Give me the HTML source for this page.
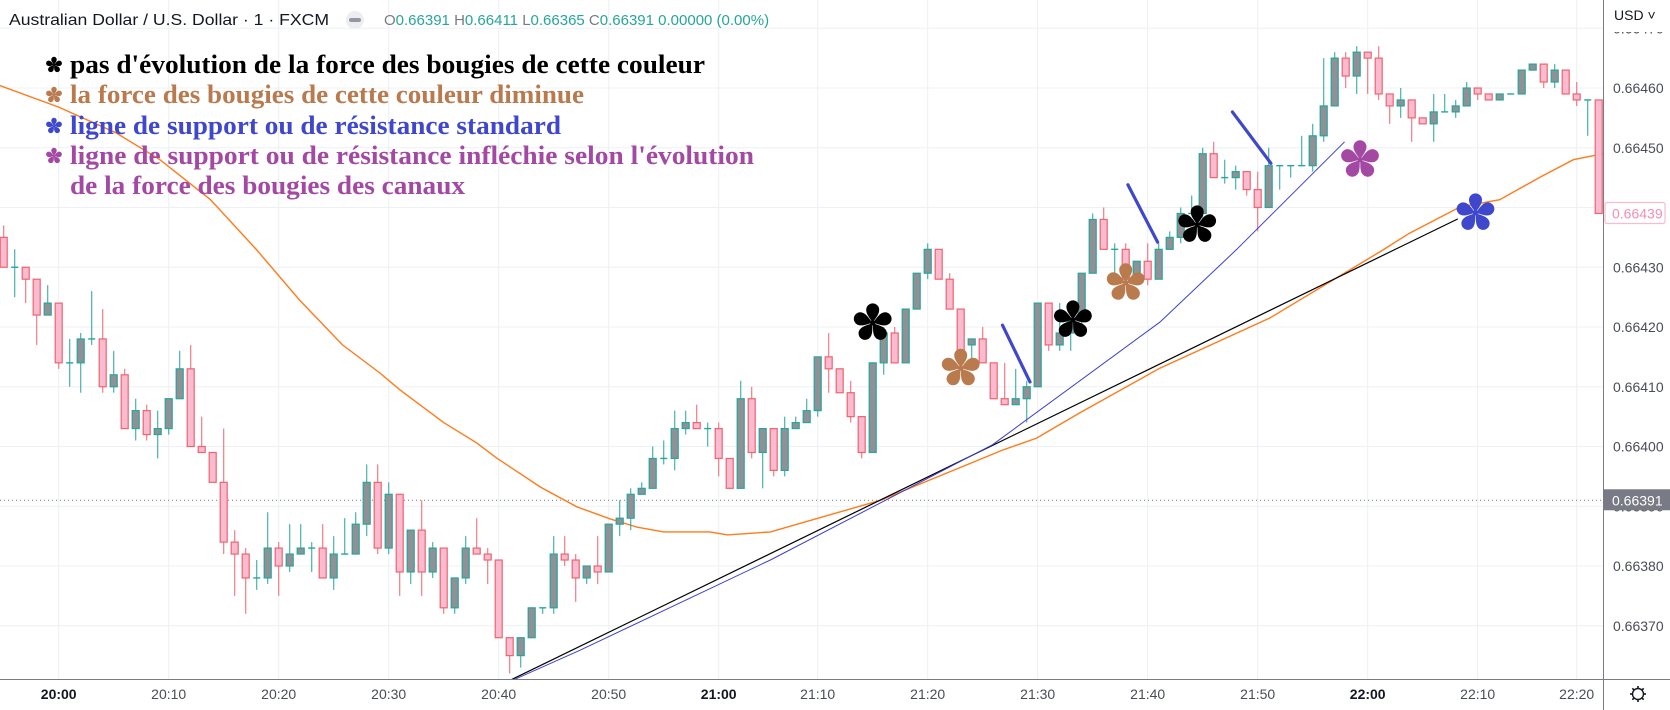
<!DOCTYPE html>
<html><head><meta charset="utf-8"><style>
html,body{margin:0;padding:0;background:#fff;}
svg{display:block;font-family:"Liberation Sans",sans-serif;}
</style></head><body>
<svg id="chart" width="1670" height="710" viewBox="0 0 1670 710" xmlns="http://www.w3.org/2000/svg">
<rect x="0" y="0" width="1670" height="710" fill="#fff"/>
<g id="grid"></g>
<g id="overlays"></g>
<g id="candles"></g>
<g id="drawings"></g>
<g id="legend">
  <text x="70" y="73" font-family="Liberation Serif, serif" font-weight="bold" font-size="26" fill="#000" textLength="635" lengthAdjust="spacingAndGlyphs">pas d'évolution de la force des bougies de cette couleur</text>
  <text x="70" y="103" font-family="Liberation Serif, serif" font-weight="bold" font-size="26" fill="#b97a4e" textLength="514" lengthAdjust="spacingAndGlyphs">la force des bougies de cette couleur diminue</text>
  <text x="70" y="134" font-family="Liberation Serif, serif" font-weight="bold" font-size="26" fill="#3f48cc" textLength="491" lengthAdjust="spacingAndGlyphs">ligne de support ou de résistance standard</text>
  <text x="70" y="164" font-family="Liberation Serif, serif" font-weight="bold" font-size="26" fill="#a349a4" textLength="684" lengthAdjust="spacingAndGlyphs">ligne de support ou de résistance infléchie selon l'évolution</text>
  <text x="70" y="194" font-family="Liberation Serif, serif" font-weight="bold" font-size="26" fill="#a349a4" textLength="395" lengthAdjust="spacingAndGlyphs">de la force des bougies des canaux</text>
</g>
<g id="header">
  <text x="9" y="25" font-size="16" fill="#131722" textLength="320" lengthAdjust="spacingAndGlyphs">Australian Dollar / U.S. Dollar · 1 · FXCM</text>
  <circle cx="355" cy="20" r="9" fill="#eceef2"/>
  <rect x="349" y="18" width="12" height="4" rx="2" fill="#9598a1"/>
  <text x="384" y="25" font-size="15"><tspan fill="#787b86">O</tspan><tspan fill="#26a69a">0.66391 </tspan><tspan fill="#787b86">H</tspan><tspan fill="#26a69a">0.66411 </tspan><tspan fill="#787b86">L</tspan><tspan fill="#26a69a">0.66365 </tspan><tspan fill="#787b86">C</tspan><tspan fill="#26a69a">0.66391 0.00000 (0.00%)</tspan></text>
</g>
<g id="yaxis"></g>
<g id="xaxis"></g>
</svg>
<script>
// candle data: values are price offsets in 1e-5 units above 0.66000
const opens  = [435,430,430,428,422,424,414,414,418,418,410,412,403,406,402,403,408,413,400,399,394,384,382,378,378,383,380,382,383,383,378,382,382,387,394,383,392,379,386,379,383,373,378,383,382,381,368,365,368,373,373,382,381,378,380,379,387,388,392,393,398,398,403,404,403,403,398,393,408,399,403,396,403,404,406,415,413,409,405,399,414,419,414,423,429,433,428,423,417,418,414,408,407,408,410,424,417,419,421,429,438,433,433,428,431,428,433,435,439,439,449,445,445,446,443,440,447,447,447,447,452,457,465,462,466,465,459,457,458,455,454,456,456,457,460,459,458,459,459,463,464,461,463,459,458,458];
const highs  = [437,433,430,428,427,424,418,419,426,423,416,413,408,407,406,408,416,417,405,399,403,386,383,381,389,384,387,387,384,387,385,388,389,397,397,394,392,386,391,384,383,378,385,388,383,381,368,368,373,373,385,385,382,380,385,387,391,393,394,400,401,406,406,407,404,404,398,411,410,403,403,405,405,408,415,419,413,411,405,414,420,420,423,429,434,433,429,423,418,420,414,414,413,411,424,424,424,421,429,439,440,434,434,431,434,434,436,440,442,450,451,448,447,446,446,450,447,447,452,454,465,466,466,467,466,467,459,460,458,455,459,459,458,461,460,459,459,459,463,464,464,464,463,461,458,458];
const lows   = [430,425,424,417,422,413,410,409,417,409,409,403,401,401,398,402,408,400,399,394,382,375,372,376,377,375,379,382,379,378,376,382,382,385,382,382,375,377,375,378,372,372,377,382,377,368,362,363,368,372,372,380,374,377,377,379,385,386,392,393,397,396,402,403,400,395,393,393,398,393,395,395,403,404,405,409,409,404,398,399,412,414,414,423,428,428,423,416,413,414,408,407,407,404,410,416,416,416,420,429,433,429,428,428,427,428,433,434,439,438,445,444,443,442,436,440,443,445,447,446,451,457,460,459,459,458,454,455,451,454,451,456,455,457,458,458,458,459,459,463,460,460,459,457,452,439];
const closes = [430,430,428,422,424,414,414,418,418,410,412,403,406,402,403,408,413,400,399,394,384,382,378,378,383,380,382,383,383,378,382,382,387,394,383,392,379,386,379,383,373,378,383,382,381,368,365,368,373,373,382,381,378,380,379,387,388,392,393,398,398,403,404,403,403,398,393,408,399,403,396,403,404,406,415,413,409,405,399,414,419,414,423,429,433,428,423,416,418,414,408,407,408,410,424,417,419,421,429,438,433,433,428,431,428,433,435,439,439,449,445,445,446,443,440,447,447,447,447,452,457,465,462,466,465,459,457,458,455,454,456,456,457,460,459,458,459,459,463,464,461,463,459,458,458,439];
// moving average samples (candle index, value)
const maIdx = [-0.5,5,10.2,14.2,18.8,23,26.9,30.8,34.2,36,40,43,44.8,48.8,52.1,55.1,57.6,60,64.2,65.8,69.7,79.7,90.8,93.9,97.8,105.1,115.1,125.4,127.8,132.4,136,139.7,142.7,145.5];
const maVal = [460.5,456.8,452.5,448,441.3,432.9,424.5,417,412.3,409.5,404,400.6,398.1,393.2,389.9,387.9,386.5,385.7,385.7,385.2,385.7,391,399.4,401.4,405.6,413.1,421.5,432.9,435.7,440.1,441.3,445.1,448,449];
// axis ticks
const priceTicks = [370,380,390,400,410,420,430,440,450,460,470];
const timeLabels = ["20:00","20:10","20:20","20:30","20:40","20:50","21:00","21:10","21:20","21:30","21:40","21:50","22:00","22:10","22:20"];
const timeIdx = [5,15,25,35,45,55,65,74,84,94,104,114,124,134,143];
const boldLabels = ["20:00","21:00","22:00"];
// drawings (candle index, value)
const blackLineIdx = [45.4,132.2];
const blackLineVal = [360.3,438.1];
const blueCurveIdx = [45.7,52.4,69.7,89.9,105.1,112.1,121.9];
const blueCurveVal = [360.4,365.9,381,400.3,420.8,433,451];
const thickIdxA = [90.8,102.2,111.7];
const thickValA = [420.3,443.8,456];
const thickIdxB = [93.3,104.9,115.2];
const thickValB = [410.8,434.2,447.4];
const starIdx = [79,87,97.2,102,108.5,123.3,133.8];
const starVal = [420.7,413.1,421.2,427.4,437.1,448,439.1];
const starColor = ["#000","#b97a4e","#000","#b97a4e","#000","#a349a4","#3f48cc"];
const lastPrice = 391;
const lastCandleClose = 439;

const NS = "http://www.w3.org/2000/svg";
const PLOT_R = 1603, PLOT_B = 679;
function xOf(i){ return 3.7 + 11*i; }
function yOf(v){ return 88 + (460 - v)*5.975; }
function mk(tag, attrs, parent){ const e=document.createElementNS(NS,tag); for(const k in attrs) e.setAttribute(k, attrs[k]); parent.appendChild(e); return e; }
function fmt(v){ return (0.66 + v/100000).toFixed(5); }

const grid = document.getElementById('grid');
priceTicks.forEach(v=>{
  const l = mk('line',{x1:0,x2:PLOT_R,y1:yOf(v),y2:yOf(v),stroke:'#edf0f4','stroke-width':1},grid);
  
  
});
timeIdx.forEach(i=>{
  const l = mk('line',{x1:xOf(i),x2:xOf(i),y1:0,y2:PLOT_B,stroke:'#edf0f4','stroke-width':1},grid);
  
  
});
// last price dotted line
const lp = mk('line',{x1:0,x2:PLOT_R,y1:yOf(lastPrice),y2:yOf(lastPrice),stroke:'#787b86','stroke-width':1,'stroke-dasharray':'1 3'},grid);



// moving average
const ov = document.getElementById('overlays');
let d = maIdx.map((i,k)=>(k?'L':'M')+Math.min(xOf(i),PLOT_R).toFixed(1)+','+yOf(maVal[k]).toFixed(1)).join(' ');
const ma = mk('path',{d:d,fill:'none',stroke:'#ff7b1c','stroke-width':1.4},ov);



// candles
const cg = document.getElementById('candles');
opens.forEach((o,i)=>{
  const c = closes[i], h = highs[i], l = lows[i];
  const bull = c >= o;
  const edge = bull ? '#26a69a' : '#ef6470';
  const fill = bull ? '#909197' : '#f8bbd0';
  const x = xOf(i);
  const g = mk('g',{},cg);
  
  
  mk('line',{x1:x,x2:x,y1:yOf(h),y2:yOf(l),stroke:edge,'stroke-width':1.2,'stroke-opacity':0.85},g);
  const top = yOf(Math.max(o,c)), bot = yOf(Math.min(o,c));
  const hgt = Math.max(bot-top, 0.01);
  if (hgt < 1.5) {
    mk('line',{x1:x-3.5,x2:x+3.5,y1:top,y2:top,stroke:edge,'stroke-width':1.4},g);
  } else {
    mk('rect',{x:x-3.5,y:top,width:7,height:hgt,fill:fill,stroke:edge,'stroke-width':1.2},g);
  }
});

// drawings
const dg = document.getElementById('drawings');
const bl = mk('line',{x1:xOf(blackLineIdx[0]),y1:yOf(blackLineVal[0]),x2:xOf(blackLineIdx[1]),y2:yOf(blackLineVal[1]),stroke:'#000','stroke-width':1.2},dg);


const bc = mk('path',{d:blueCurveIdx.map((i,k)=>(k?'L':'M')+xOf(i).toFixed(1)+','+yOf(blueCurveVal[k]).toFixed(1)).join(' '),fill:'none',stroke:'#3b3fd0','stroke-width':1},dg);


thickIdxA.forEach((i,k)=>{
  const t = mk('line',{x1:xOf(i),y1:yOf(thickValA[k]),x2:xOf(thickIdxB[k]),y2:yOf(thickValB[k]),stroke:'#3f48cc','stroke-width':3.2,'stroke-linecap':'round'},dg);
  
  
});
const petal = "M0,0 C-2,-4 -6.5,-8 -6.5,-13 A6.5,6.5 0 1 1 6.5,-13 C6.5,-8 2,-4 0,0Z";
function star(parent, cx, cy, scale, color){
  const g = mk('g',{transform:'translate('+cx+','+cy+') scale('+scale+')',fill:color},parent);
  for(let a=0;a<5;a++) mk('path',{d:petal,transform:'rotate('+(a*72)+')'},g);
  mk('circle',{r:2.5},g);
  return g;
}
starIdx.forEach((i,k)=>{
  const s = star(dg, xOf(i), yOf(starVal[k]), 1, starColor[k]);
  
  
});
const legendColors = ["#000","#b97a4e","#3f48cc","#a349a4"];
const legendY = [65,95,126,156];
const lg = document.getElementById('legend');
legendColors.forEach((c,k)=>{
  const s = star(lg, 54, legendY[k], 0.42, c);
  
  
});

// y axis
const ya = document.getElementById('yaxis');
const ab = mk('rect',{x:PLOT_R,y:0,width:1670-PLOT_R,height:710,fill:'#fff'},ya);


const border = mk('line',{x1:PLOT_R+0.5,x2:PLOT_R+0.5,y1:0,y2:710,stroke:'#787b86','stroke-width':1},ya);


priceTicks.forEach(v=>{
  const t = mk('text',{x:1613,y:yOf(v)+5,'font-size':14,fill:'#4a4d57'},ya);
  t.textContent = fmt(v);
  
  
});
const usdBg = mk('rect',{x:1606,y:2,width:64,height:30,fill:'#fff'},ya);


const usd = mk('text',{x:1614,y:20,'font-size':14,fill:'#131722'},ya);
usd.textContent = 'USD ˅';


// last candle tag
const tag1 = mk('rect',{x:1605,y:yOf(lastCandleClose)-11,width:60,height:21,rx:2,fill:'#fff',stroke:'#f8bbd0','stroke-width':1.2},ya);


const tag1t = mk('text',{x:1612,y:yOf(lastCandleClose)+5,'font-size':14,fill:'#f48fb1'},ya);
tag1t.textContent = fmt(lastCandleClose);


const tag2 = mk('rect',{x:1604,y:yOf(lastPrice)-11,width:66,height:21,fill:'#787b86'},ya);


const tag2t = mk('text',{x:1612,y:yOf(lastPrice)+5,'font-size':14,fill:'#fff'},ya);
tag2t.textContent = fmt(lastPrice);



// x axis
const xa = document.getElementById('xaxis');
const xb = mk('rect',{x:0,y:PLOT_B,width:1670,height:710-PLOT_B,fill:'#fff'},xa);


const xl = mk('line',{x1:0,x2:1670,y1:PLOT_B+0.5,y2:PLOT_B+0.5,stroke:'#787b86','stroke-width':1},xa);


const xl2 = mk('line',{x1:PLOT_R+0.5,x2:PLOT_R+0.5,y1:PLOT_B,y2:710,stroke:'#787b86','stroke-width':1},xa);


timeLabels.forEach((s,k)=>{
  const t = mk('text',{x:xOf(timeIdx[k]),y:699,'font-size':14,'text-anchor':'middle',fill: boldLabels.includes(s)?'#131722':'#4a4d57','font-weight':boldLabels.includes(s)?'bold':'normal'},xa);
  t.textContent = s;
  
  
});
const gear = mk('g',{transform:'translate(1638,694)'},xa);


mk('circle',{r:5.5,fill:'none',stroke:'#131722','stroke-width':1.4},gear);
for(let a=0;a<8;a++) mk('line',{x1:0,y1:-5.5,x2:0,y2:-8,stroke:'#131722','stroke-width':1.6,transform:'rotate('+(a*45)+')'},gear);
</script>
</body></html>
